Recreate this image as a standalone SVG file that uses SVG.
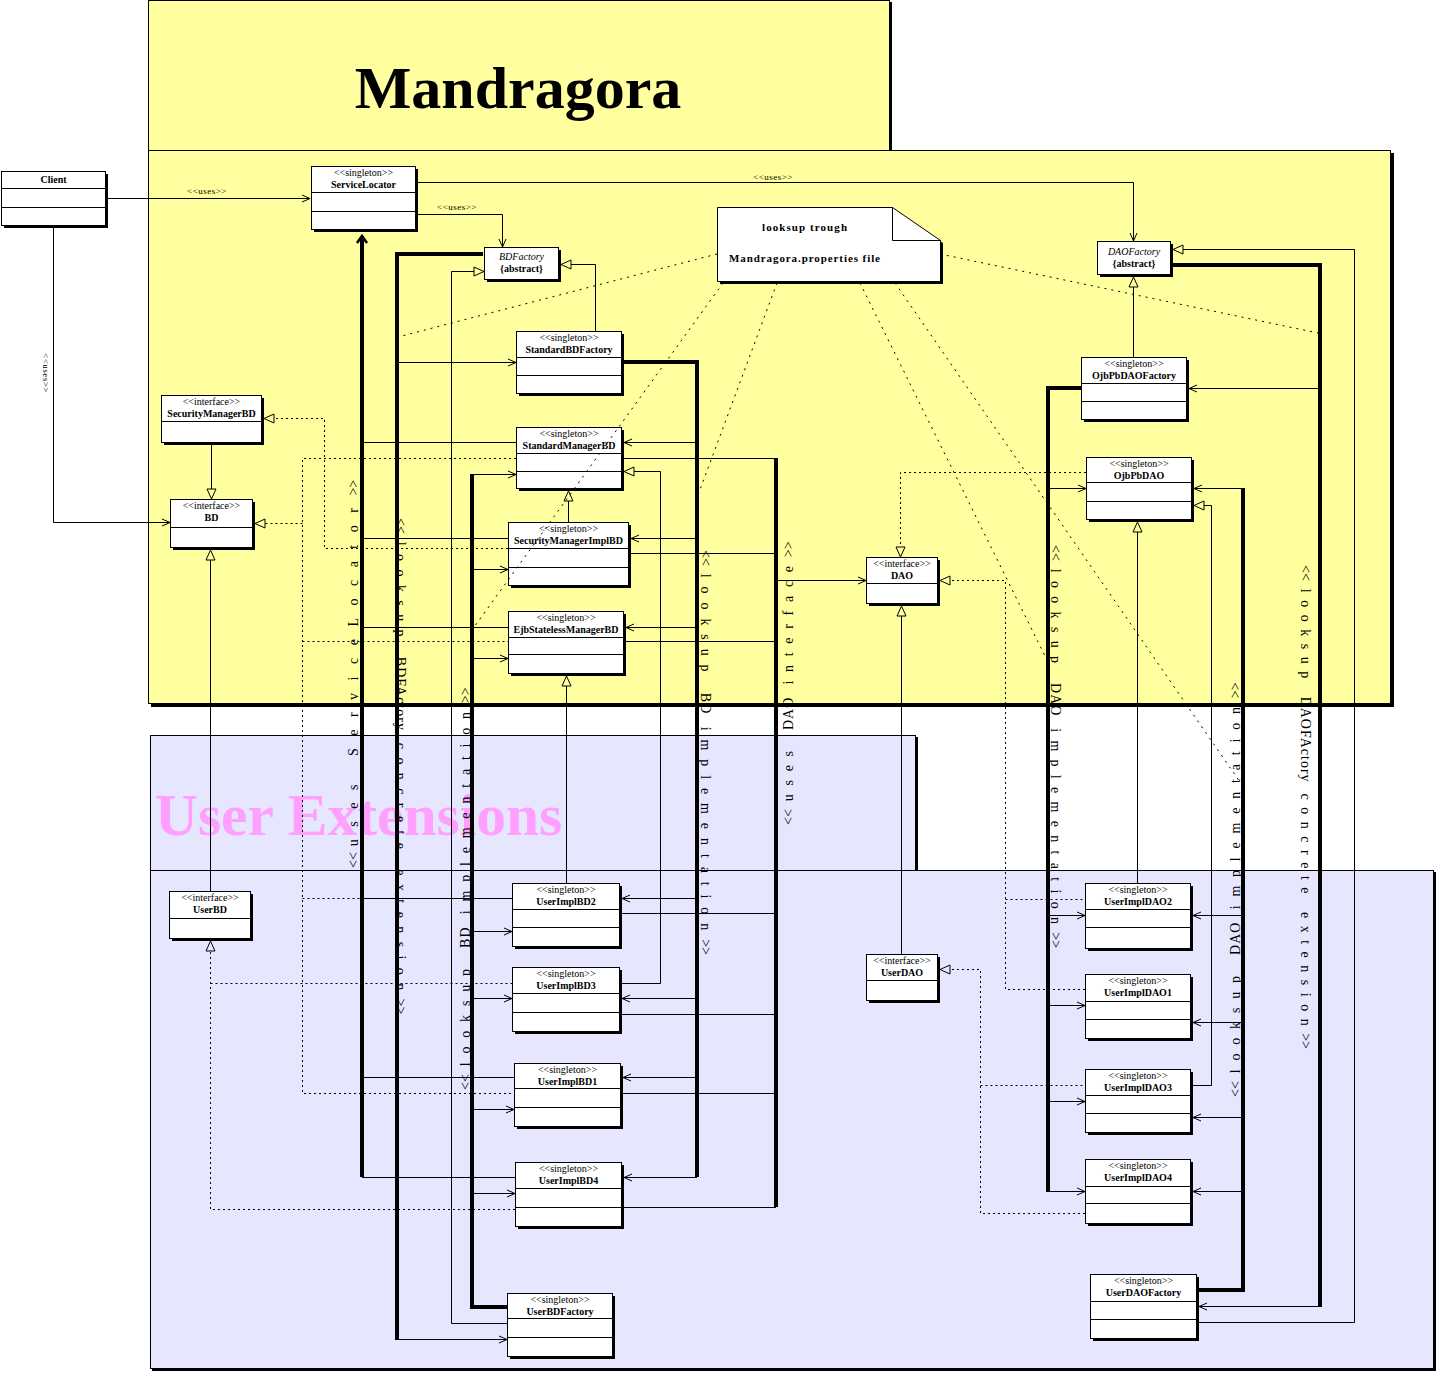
<svg xmlns="http://www.w3.org/2000/svg" width="1437" height="1373" viewBox="0 0 1437 1373">
<defs>
<style>
.box{fill:#fff;stroke:#000;stroke-width:1}
.sh{fill:#000}
.st{font-family:"Liberation Serif",serif;font-size:10px;text-anchor:middle}
.nm{font-family:"Liberation Serif",serif;font-size:10px;font-weight:bold;text-anchor:middle}
.it{font-family:"Liberation Serif",serif;font-size:10px;font-style:italic;text-anchor:middle}
.l{fill:none;stroke:#000;stroke-width:1}
.d{fill:none;stroke:#000;stroke-width:1;stroke-dasharray:2 3}
.n{fill:none;stroke:#000;stroke-width:1;stroke-dasharray:2 5}
.t{fill:none;stroke:#000;stroke-width:4}
.vt{font-family:"Liberation Serif",serif;font-size:14px;letter-spacing:0;white-space:pre}
.lbl{font-family:"Liberation Serif",serif;font-size:9px;text-anchor:middle;letter-spacing:0.5px}
.nt{font-family:"Liberation Serif",serif;font-size:11px;font-weight:bold}
</style>
<marker id="a" markerUnits="userSpaceOnUse" markerWidth="12" markerHeight="12" refX="8" refY="3.5" orient="auto" overflow="visible"><path d="M0,0L8,3.5L0,7" fill="none" stroke="#000" stroke-width="1"/></marker>
<marker id="g" markerUnits="userSpaceOnUse" markerWidth="12" markerHeight="12" refX="0" refY="4.5" orient="auto" overflow="visible"><path d="M0,0L10,4.5L0,9Z" fill="none" stroke="#000" stroke-width="1"/></marker>
<marker id="ta" markerUnits="userSpaceOnUse" markerWidth="12" markerHeight="12" refX="7" refY="5" orient="auto" overflow="visible"><path d="M0,0L7,5L0,10" fill="none" stroke="#000" stroke-width="2.5"/></marker>
</defs>
<rect x="0" y="0" width="1437" height="1373" fill="#fff"/>

<g id="pkg-mandragora">
<rect x="150" y="2" width="742" height="150" fill="#000"/>
<rect x="148.5" y="0.5" width="741" height="150" fill="#FFFFA0" stroke="#000"/>
<rect x="151" y="153" width="1243" height="554" fill="#000"/>
<rect x="148.5" y="150.5" width="1242" height="553" fill="#FFFFA0" stroke="#000"/>
<text x="518" y="108" font-family="Liberation Serif,serif" font-size="60" font-weight="bold" text-anchor="middle">Mandragora</text>
</g>
<g id="pkg-user">
<rect x="152" y="737" width="766" height="135" fill="#000"/>
<rect x="150.5" y="735.5" width="765" height="135" fill="#E6E6FF" stroke="#000"/>
<rect x="152" y="872" width="1284" height="499" fill="#000"/>
<rect x="150.5" y="870.5" width="1283" height="498" fill="#E6E6FF" stroke="#000"/>
<text x="155" y="835" font-family="Liberation Serif,serif" font-size="59.5" font-weight="bold" fill="#FFA0FF">User Extensions</text>
</g>

<g id="n-client"><rect class="sh" x="4" y="174" width="104" height="54"/><rect class="box" x="1.5" y="171.5" width="104" height="54"/><path class="l" d="M1.5,188.5H105.5M1.5,207.5H105.5"/><text class="nm" x="53.5" y="183">Client</text></g>
<g id="n-servicelocator"><rect class="sh" x="314" y="169" width="104" height="63"/><rect class="box" x="311.5" y="166.5" width="104" height="63"/><path class="l" d="M311.5,192.5H415.5M311.5,211.5H415.5"/><text class="st" x="363.5" y="176">&lt;&lt;singleton&gt;&gt;</text><text class="nm" x="363.5" y="188">ServiceLocator</text></g>
<g id="n-bdfactory"><rect class="sh" x="487" y="250" width="74" height="32"/><rect class="box" x="484.5" y="247.5" width="74" height="32"/><text class="it" x="521.5" y="260">BDFactory</text><text class="nm" x="521.5" y="272">{abstract}</text></g>
<g id="n-daofactory"><rect class="sh" x="1100" y="244" width="73" height="33"/><rect class="box" x="1097.5" y="241.5" width="73" height="33"/><text class="it" x="1134" y="255">DAOFactory</text><text class="nm" x="1134" y="267">{abstract}</text></g>
<g id="n-note"><polygon points="720,210 895,210 943,243 943,284 720,284" fill="#000"/><polygon points="717.5,207.5 892.5,207.5 940.5,240.5 940.5,281.5 717.5,281.5" fill="#fff" stroke="#000"/><path class="l" d="M892.5,207.5V240.5H940.5"/><text class="nt" x="762" y="231" textLength="85">looksup trough</text><text class="nt" x="729" y="262" textLength="151">Mandragora.properties file</text></g>
<g id="n-standardbdfactory"><rect class="sh" x="519" y="334" width="105" height="62"/><rect class="box" x="516.5" y="331.5" width="105" height="62"/><path class="l" d="M516.5,357.5H621.5M516.5,375.5H621.5"/><text class="st" x="569" y="341">&lt;&lt;singleton&gt;&gt;</text><text class="nm" x="569" y="353">StandardBDFactory</text></g>
<g id="n-ojbpbdaofactory"><rect class="sh" x="1084" y="360" width="105" height="62"/><rect class="box" x="1081.5" y="357.5" width="105" height="62"/><path class="l" d="M1081.5,383.5H1186.5M1081.5,401.5H1186.5"/><text class="st" x="1134" y="367">&lt;&lt;singleton&gt;&gt;</text><text class="nm" x="1134" y="379">OjbPbDAOFactory</text></g>
<g id="n-securitymanagerbd"><rect class="sh" x="164" y="398" width="100" height="47"/><rect class="box" x="161.5" y="395.5" width="100" height="47"/><path class="l" d="M161.5,421.5H261.5"/><text class="st" x="211.5" y="405">&lt;&lt;interface&gt;&gt;</text><text class="nm" x="211.5" y="417">SecurityManagerBD</text></g>
<g id="n-bd"><rect class="sh" x="173" y="502" width="82" height="48"/><rect class="box" x="170.5" y="499.5" width="82" height="48"/><path class="l" d="M170.5,527.5H252.5"/><text class="st" x="211.5" y="509">&lt;&lt;interface&gt;&gt;</text><text class="nm" x="211.5" y="521">BD</text></g>
<g id="n-standardmanagerbd"><rect class="sh" x="519" y="430" width="105" height="61"/><rect class="box" x="516.5" y="427.5" width="105" height="61"/><path class="l" d="M516.5,453.5H621.5M516.5,471.5H621.5"/><text class="st" x="569" y="437">&lt;&lt;singleton&gt;&gt;</text><text class="nm" x="569" y="449">StandardManagerBD</text></g>
<g id="n-securitymanagerimplbd"><rect class="sh" x="511" y="525" width="120" height="63"/><rect class="box" x="508.5" y="522.5" width="120" height="63"/><path class="l" d="M508.5,548.5H628.5M508.5,567.5H628.5"/><text class="st" x="568.5" y="532">&lt;&lt;singleton&gt;&gt;</text><text class="nm" x="568.5" y="544">SecurityManagerImplBD</text></g>
<g id="n-ejbstatelessmanagerbd"><rect class="sh" x="511" y="614" width="115" height="62"/><rect class="box" x="508.5" y="611.5" width="115" height="62"/><path class="l" d="M508.5,637.5H623.5M508.5,654.5H623.5"/><text class="st" x="566" y="621">&lt;&lt;singleton&gt;&gt;</text><text class="nm" x="566" y="633">EjbStatelessManagerBD</text></g>
<g id="n-dao"><rect class="sh" x="869" y="560" width="71" height="46"/><rect class="box" x="866.5" y="557.5" width="71" height="46"/><path class="l" d="M866.5,583.5H937.5"/><text class="st" x="902" y="567">&lt;&lt;interface&gt;&gt;</text><text class="nm" x="902" y="579">DAO</text></g>
<g id="n-ojbpbdao"><rect class="sh" x="1089" y="460" width="105" height="62"/><rect class="box" x="1086.5" y="457.5" width="105" height="62"/><path class="l" d="M1086.5,482.5H1191.5M1086.5,501.5H1191.5"/><text class="st" x="1139" y="467">&lt;&lt;singleton&gt;&gt;</text><text class="nm" x="1139" y="479">OjbPbDAO</text></g>
<g id="n-userbd"><rect class="sh" x="172" y="894" width="81" height="47"/><rect class="box" x="169.5" y="891.5" width="81" height="47"/><path class="l" d="M169.5,918.5H250.5"/><text class="st" x="210" y="901">&lt;&lt;interface&gt;&gt;</text><text class="nm" x="210" y="913">UserBD</text></g>
<g id="n-userimplbd2"><rect class="sh" x="515" y="886" width="107" height="63"/><rect class="box" x="512.5" y="883.5" width="107" height="63"/><path class="l" d="M512.5,909.5H619.5M512.5,927.5H619.5"/><text class="st" x="566" y="893">&lt;&lt;singleton&gt;&gt;</text><text class="nm" x="566" y="905">UserImplBD2</text></g>
<g id="n-userimplbd3"><rect class="sh" x="515" y="970" width="107" height="64"/><rect class="box" x="512.5" y="967.5" width="107" height="64"/><path class="l" d="M512.5,993.5H619.5M512.5,1012.5H619.5"/><text class="st" x="566" y="977">&lt;&lt;singleton&gt;&gt;</text><text class="nm" x="566" y="989">UserImplBD3</text></g>
<g id="n-userimplbd1"><rect class="sh" x="517" y="1066" width="106" height="63"/><rect class="box" x="514.5" y="1063.5" width="106" height="63"/><path class="l" d="M514.5,1088.5H620.5M514.5,1107.5H620.5"/><text class="st" x="567.5" y="1073">&lt;&lt;singleton&gt;&gt;</text><text class="nm" x="567.5" y="1085">UserImplBD1</text></g>
<g id="n-userimplbd4"><rect class="sh" x="518" y="1165" width="106" height="64"/><rect class="box" x="515.5" y="1162.5" width="106" height="64"/><path class="l" d="M515.5,1188.5H621.5M515.5,1207.5H621.5"/><text class="st" x="568.5" y="1172">&lt;&lt;singleton&gt;&gt;</text><text class="nm" x="568.5" y="1184">UserImplBD4</text></g>
<g id="n-userbdfactory"><rect class="sh" x="510" y="1296" width="105" height="63"/><rect class="box" x="507.5" y="1293.5" width="105" height="63"/><path class="l" d="M507.5,1318.5H612.5M507.5,1337.5H612.5"/><text class="st" x="560" y="1303">&lt;&lt;singleton&gt;&gt;</text><text class="nm" x="560" y="1315">UserBDFactory</text></g>
<g id="n-userdao"><rect class="sh" x="869" y="957" width="71" height="46"/><rect class="box" x="866.5" y="954.5" width="71" height="46"/><path class="l" d="M866.5,980.5H937.5"/><text class="st" x="902" y="964">&lt;&lt;interface&gt;&gt;</text><text class="nm" x="902" y="976">UserDAO</text></g>
<g id="n-userimpldao2"><rect class="sh" x="1088" y="886" width="105" height="65"/><rect class="box" x="1085.5" y="883.5" width="105" height="65"/><path class="l" d="M1085.5,909.5H1190.5M1085.5,927.5H1190.5"/><text class="st" x="1138" y="893">&lt;&lt;singleton&gt;&gt;</text><text class="nm" x="1138" y="905">UserImplDAO2</text></g>
<g id="n-userimpldao1"><rect class="sh" x="1088" y="977" width="105" height="64"/><rect class="box" x="1085.5" y="974.5" width="105" height="64"/><path class="l" d="M1085.5,1001.5H1190.5M1085.5,1019.5H1190.5"/><text class="st" x="1138" y="984">&lt;&lt;singleton&gt;&gt;</text><text class="nm" x="1138" y="996">UserImplDAO1</text></g>
<g id="n-userimpldao3"><rect class="sh" x="1088" y="1072" width="105" height="63"/><rect class="box" x="1085.5" y="1069.5" width="105" height="63"/><path class="l" d="M1085.5,1095.5H1190.5M1085.5,1113.5H1190.5"/><text class="st" x="1138" y="1079">&lt;&lt;singleton&gt;&gt;</text><text class="nm" x="1138" y="1091">UserImplDAO3</text></g>
<g id="n-userimpldao4"><rect class="sh" x="1088" y="1162" width="105" height="64"/><rect class="box" x="1085.5" y="1159.5" width="105" height="64"/><path class="l" d="M1085.5,1186.5H1190.5M1085.5,1203.5H1190.5"/><text class="st" x="1138" y="1169">&lt;&lt;singleton&gt;&gt;</text><text class="nm" x="1138" y="1181">UserImplDAO4</text></g>
<g id="n-userdaofactory"><rect class="sh" x="1093" y="1277" width="106" height="64"/><rect class="box" x="1090.5" y="1274.5" width="106" height="64"/><path class="l" d="M1090.5,1301.5H1196.5M1090.5,1319.5H1196.5"/><text class="st" x="1143.5" y="1284">&lt;&lt;singleton&gt;&gt;</text><text class="nm" x="1143.5" y="1296">UserDAOFactory</text></g>

<g id="connectors">
<!-- uses -->
<path class="l" d="M108,198.5H310" marker-end="url(#a)"/>
<path class="l" d="M53.5,228V522.5H170" marker-end="url(#a)"/>
<path class="l" d="M418,182.5H1133.5V241" marker-end="url(#a)"/>
<path class="l" d="M418,214.5H502.5V247" marker-end="url(#a)"/>
<!-- generalizations -->
<path class="l" d="M595.5,331V264.5H571" marker-end="url(#g)"/>
<path class="l" d="M507,1323.5H451.5V271.5H474" marker-end="url(#g)"/>
<path class="l" d="M1133.5,357V287" marker-end="url(#g)"/>
<path class="l" d="M1196,1322.5H1354.5V249.5H1183" marker-end="url(#g)"/>
<path class="l" d="M211.5,442V489" marker-end="url(#g)"/>
<path class="l" d="M210.5,891V560" marker-end="url(#g)"/>
<path class="l" d="M568.5,522V501" marker-end="url(#g)"/>
<path class="l" d="M566.5,883V686" marker-end="url(#g)"/>
<path class="l" d="M901.5,954V616" marker-end="url(#g)"/>
<path class="l" d="M1137.5,883V532" marker-end="url(#g)"/>
<path class="l" d="M1193,1085.5H1211.5V505.5H1204" marker-end="url(#g)"/>
<path class="l" d="M622,983.5H660.5V471.5H634" marker-end="url(#g)"/>
<!-- realizations -->
<path class="d" d="M508,548.5H324.5V418.5H274" marker-end="url(#g)"/>
<path class="d" d="M516,458.5H302.5V1093.5H514M302.5,641.5H508M302.5,898.5H512"/>
<path class="d" d="M302.5,523.5H265" marker-end="url(#g)"/>
<path class="d" d="M515,1209.5H210.5V951" marker-end="url(#g)"/>
<path class="d" d="M210.5,983.5H512"/>
<path class="d" d="M1086,472.5H900.5V547" marker-end="url(#g)"/>
<path class="d" d="M1085,989.5H1005.5V580.5H950" marker-end="url(#g)"/>
<path class="d" d="M1005.5,899.5H1085"/>
<path class="d" d="M1085,1213.5H980.5V969.5H950" marker-end="url(#g)"/>
<path class="d" d="M980.5,1085.5H1085"/>
<!-- note links -->
<path class="n" d="M717,254L398,337"/>
<path class="n" d="M723,283L472,630"/>
<path class="n" d="M777,283L698,495"/>
<path class="n" d="M860,283L1048,662"/>
<path class="n" d="M895,283L1242,785"/>
<path class="n" d="M940,254L1318,333"/>
<!-- thick lookup lines -->
<path class="t" d="M362,1177V236" marker-end="url(#ta)"/>
<path class="t" d="M483,254H397V1340"/>
<path class="t" d="M507,1307H472V474"/>
<path class="t" d="M624,362H697V1177"/>
<path class="t" d="M776,458V1207"/>
<path class="t" d="M1081,388H1048V1192"/>
<path class="t" d="M1243,488V1290H1199"/>
<path class="t" d="M1173,265H1320V1307"/>
<!-- branches from uses ServiceLocator -->
<path class="l" d="M362,442.5H516M362,538.5H508M362,627.5H508M362,898.5H512M362,1077.5H514M362,1177.5H515"/>
<!-- branches from BDFactory extension -->
<path class="l" d="M397,362.5H516" marker-end="url(#a)"/>
<path class="l" d="M397,1339.5H507" marker-end="url(#a)"/>
<!-- branches from lookup BD implementation (left) -->
<path class="l" d="M472,474.5H516" marker-end="url(#a)"/>
<path class="l" d="M472,569.5H508" marker-end="url(#a)"/>
<path class="l" d="M472,658.5H508" marker-end="url(#a)"/>
<path class="l" d="M472,931.5H512" marker-end="url(#a)"/>
<path class="l" d="M472,998.5H512" marker-end="url(#a)"/>
<path class="l" d="M472,1109.5H514" marker-end="url(#a)"/>
<path class="l" d="M472,1193.5H515" marker-end="url(#a)"/>
<!-- branches from lookup BD implementation (right) -->
<path class="l" d="M697,442.5H624" marker-end="url(#a)"/>
<path class="l" d="M697,538.5H631" marker-end="url(#a)"/>
<path class="l" d="M697,627.5H626" marker-end="url(#a)"/>
<path class="l" d="M697,898.5H622" marker-end="url(#a)"/>
<path class="l" d="M697,998.5H622" marker-end="url(#a)"/>
<path class="l" d="M697,1077.5H623" marker-end="url(#a)"/>
<path class="l" d="M697,1177.5H624" marker-end="url(#a)"/>
<!-- uses DAO interface -->
<path class="l" d="M624,458.5H776M631,553.5H776M626,641.5H776M622,913.5H776M622,1014.5H776M623,1093.5H776M624,1207.5H776"/>
<path class="l" d="M776,580.5H866" marker-end="url(#a)"/>
<!-- lookup DAO implementation (left) -->
<path class="l" d="M1048,488.5H1086" marker-end="url(#a)"/>
<path class="l" d="M1048,915.5H1085" marker-end="url(#a)"/>
<path class="l" d="M1048,1005.5H1085" marker-end="url(#a)"/>
<path class="l" d="M1048,1101.5H1085" marker-end="url(#a)"/>
<path class="l" d="M1048,1191.5H1085" marker-end="url(#a)"/>
<!-- lookup DAO implementation (right) -->
<path class="l" d="M1243,488.5H1194" marker-end="url(#a)"/>
<path class="l" d="M1243,915.5H1193" marker-end="url(#a)"/>
<path class="l" d="M1243,1022.5H1193" marker-end="url(#a)"/>
<path class="l" d="M1243,1117.5H1193" marker-end="url(#a)"/>
<path class="l" d="M1243,1191.5H1193" marker-end="url(#a)"/>
<!-- DAOFactory extension -->
<path class="l" d="M1320,388.5H1189" marker-end="url(#a)"/>
<path class="l" d="M1320,1306.5H1199" marker-end="url(#a)"/>

<!-- labels -->
<text class="lbl" x="207" y="194">&lt;&lt;uses&gt;&gt;</text>
<text class="lbl" x="457" y="210">&lt;&lt;uses&gt;&gt;</text>
<text class="lbl" x="773" y="180">&lt;&lt;uses&gt;&gt;</text>
<text class="lbl" transform="translate(43,373) rotate(90)">&lt;&lt;uses&gt;&gt;</text>

<text class="vt" transform="translate(358,868) rotate(-90)"><tspan>&lt;&lt;</tspan><tspan dx="6" letter-spacing="12.5">uses ServiceLocator</tspan><tspan letter-spacing="0">&gt;&gt;</tspan></text>
<text class="vt" transform="translate(396,518) rotate(90)"><tspan>&lt;&lt;</tspan><tspan dx="8" letter-spacing="8.4">looksup </tspan><tspan letter-spacing="1">BDFActory</tspan><tspan letter-spacing="8.4"> concrete extension</tspan><tspan letter-spacing="0">&gt;&gt;</tspan></text>
<text class="vt" transform="translate(470,1090) rotate(-90)"><tspan>&lt;&lt;</tspan><tspan dx="8" letter-spacing="8.8">looksup </tspan><tspan letter-spacing="1">BD</tspan><tspan letter-spacing="8.8"> implementation</tspan><tspan letter-spacing="0">&gt;&gt;</tspan></text>
<text class="vt" transform="translate(701,550) rotate(90)"><tspan>&lt;&lt;</tspan><tspan dx="8" letter-spacing="8.9">looksup </tspan><tspan letter-spacing="1">BD</tspan><tspan letter-spacing="8.9"> implementation</tspan><tspan letter-spacing="0">&gt;&gt;</tspan></text>
<text class="vt" transform="translate(793,825) rotate(-90)"><tspan>&lt;&lt;</tspan><tspan dx="8" letter-spacing="8.7">uses </tspan><tspan letter-spacing="1">DAO</tspan><tspan letter-spacing="8.7"> interface</tspan><tspan letter-spacing="0">&gt;&gt;</tspan></text>
<text class="vt" transform="translate(1051,545) rotate(90)"><tspan>&lt;&lt;</tspan><tspan dx="8" letter-spacing="8.3">looksup </tspan><tspan letter-spacing="1">DAO</tspan><tspan letter-spacing="8.3"> implementation</tspan><tspan letter-spacing="0">&gt;&gt;</tspan></text>
<text class="vt" transform="translate(1240,1097) rotate(-90)"><tspan>&lt;&lt;</tspan><tspan dx="8" letter-spacing="8.8">looksup </tspan><tspan letter-spacing="1">DAO</tspan><tspan letter-spacing="8.8"> implementation</tspan><tspan letter-spacing="0">&gt;&gt;</tspan></text>
<text class="vt" transform="translate(1301,565) rotate(90)"><tspan>&lt;&lt;</tspan><tspan dx="8" letter-spacing="7.5">looksup </tspan><tspan letter-spacing="1">DAOFActory</tspan><tspan letter-spacing="7.5"> concrete extension</tspan><tspan letter-spacing="0">&gt;&gt;</tspan></text>
</g>
</svg>
